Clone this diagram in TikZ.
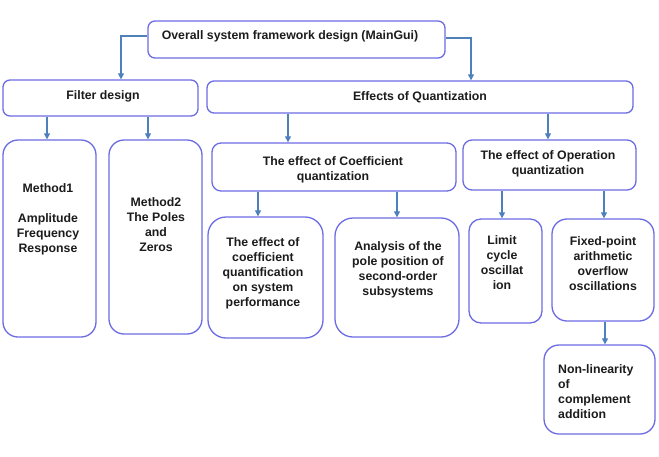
\documentclass[tikz,border=0pt]{standalone}
\usepackage{fontspec}
\setmainfont{Liberation Sans}
\usetikzlibrary{arrows.meta}
\definecolor{boxpurple}{RGB}{108,108,228}
\definecolor{arrowblue}{RGB}{78,128,188}
\definecolor{inkgray}{RGB}{28,28,28}

\begin{document}
\begin{tikzpicture}[
  x=1pt, y=-1pt,
  every node/.style={font=\bfseries\fontsize{12.3}{15}\selectfont, text=inkgray, inner sep=0pt},
  topbox/.style={rectangle, draw=boxpurple, line width=1.3pt, rounded corners=7pt, fill=white},
  tallbox/.style={topbox, rounded corners=15pt},
  boxtext/.style={align=center},
  link/.style={-{Triangle[length=6pt, width=6pt]}, draw=arrowblue, line width=1.1pt},
]
\useasboundingbox (0,0) rectangle (659,456);

% ---- top level ----
\node[topbox, minimum width=297, minimum height=37] (main) at (296.5,39.5) {};
\node[boxtext] (maintxt) at (290,36) {Overall system framework design (MainGui)};
% ---- second level ----
\node[topbox, minimum width=195, minimum height=36] (filter) at (100.5,98) {};
\node[boxtext] (filtertxt) at (103,96) {Filter design};
\node[topbox, minimum width=426, minimum height=32] (effects) at (420,97) {};
\node[boxtext] (effectstxt) at (420,97) {Effects of Quantization};
% ---- filter methods ----
\node[tallbox, minimum width=93, minimum height=197] (m1) at (49.5,238.5) {};
\node[boxtext] (m1txt) at (48,219.5) {Method1\\[15pt]Amplitude\\Frequency\\Response};
\node[tallbox, minimum width=93, minimum height=194] (m2) at (155.5,237) {};
\node[boxtext] (m2txt) at (156,224.5) {Method2\\The Poles\\and\\Zeros};
% ---- quantization branches ----
\node[topbox, rounded corners=9pt, minimum width=244, minimum height=48] (coef) at (334,167) {};
\node[boxtext] (coeftxt) at (333,169.5) {The effect of Coefficient\\quantization};
\node[topbox, rounded corners=9pt, minimum width=173, minimum height=50] (oper) at (549.5,165) {};
\node[boxtext] (opertxt) at (548,163.5) {The effect of Operation\\quantization};
% ---- leaves ----
\node[tallbox, rounded corners=18pt, minimum width=115, minimum height=121] (perf) at (265.5,277.5) {};
\node[boxtext] (perftxt) at (263,273.5) {The effect of\\coefficient\\quantification\\on system\\performance};
\node[tallbox, rounded corners=18pt, minimum width=124, minimum height=119] (anal) at (397,277.5) {};
\node[boxtext] (analtxt) at (398,269.5) {Analysis of the\\pole position of\\second-order\\subsystems};
\node[tallbox, rounded corners=12pt, minimum width=73, minimum height=104] (limit) at (505.5,271) {};
\node[boxtext] (limittxt) at (502,262.5) {Limit\\cycle\\oscillat\\ion};
\node[tallbox, minimum width=102, minimum height=102] (fixed) at (603,270) {};
\node[boxtext] (fixedtxt) at (603,263.5) {Fixed-point\\arithmetic\\overflow\\oscillations};
\node[tallbox, minimum width=111, minimum height=89] (nonlin) at (599.5,389.5) {};
\node[align=left, anchor=west] (nonlintxt) at (558,391.5) {Non-linearity\\of\\complement\\addition};

% ---- connectors ----
\draw[link] ([yshift=3.5]main.west) -| ([xshift=20.5]filter.north);
\draw[link] ([yshift=1.5]main.east) -| ([xshift=51]effects.north);
\draw[link] (filter.south -| 47,0) -- (m1.north -| 47,0);
\draw[link] (filter.south -| 148,0) -- (m2.north -| 148,0);
\draw[link] (effects.south -| 288,0) -- (coef.north -| 288,0);
\draw[link] (effects.south -| 548,0) -- (oper.north -| 548,0);
\draw[link] (coef.south -| 258,0) -- (perf.north -| 258,0);
\draw[link] (coef.south -| 397,0) -- (anal.north -| 397,0);
\draw[link] (oper.south -| 502,0) -- (limit.north -| 502,0);
\draw[link] (oper.south -| 604,0) -- (fixed.north -| 604,0);
\draw[link] (fixed.south -| 605,0) -- (nonlin.north -| 605,0);

\end{tikzpicture}
\end{document}
